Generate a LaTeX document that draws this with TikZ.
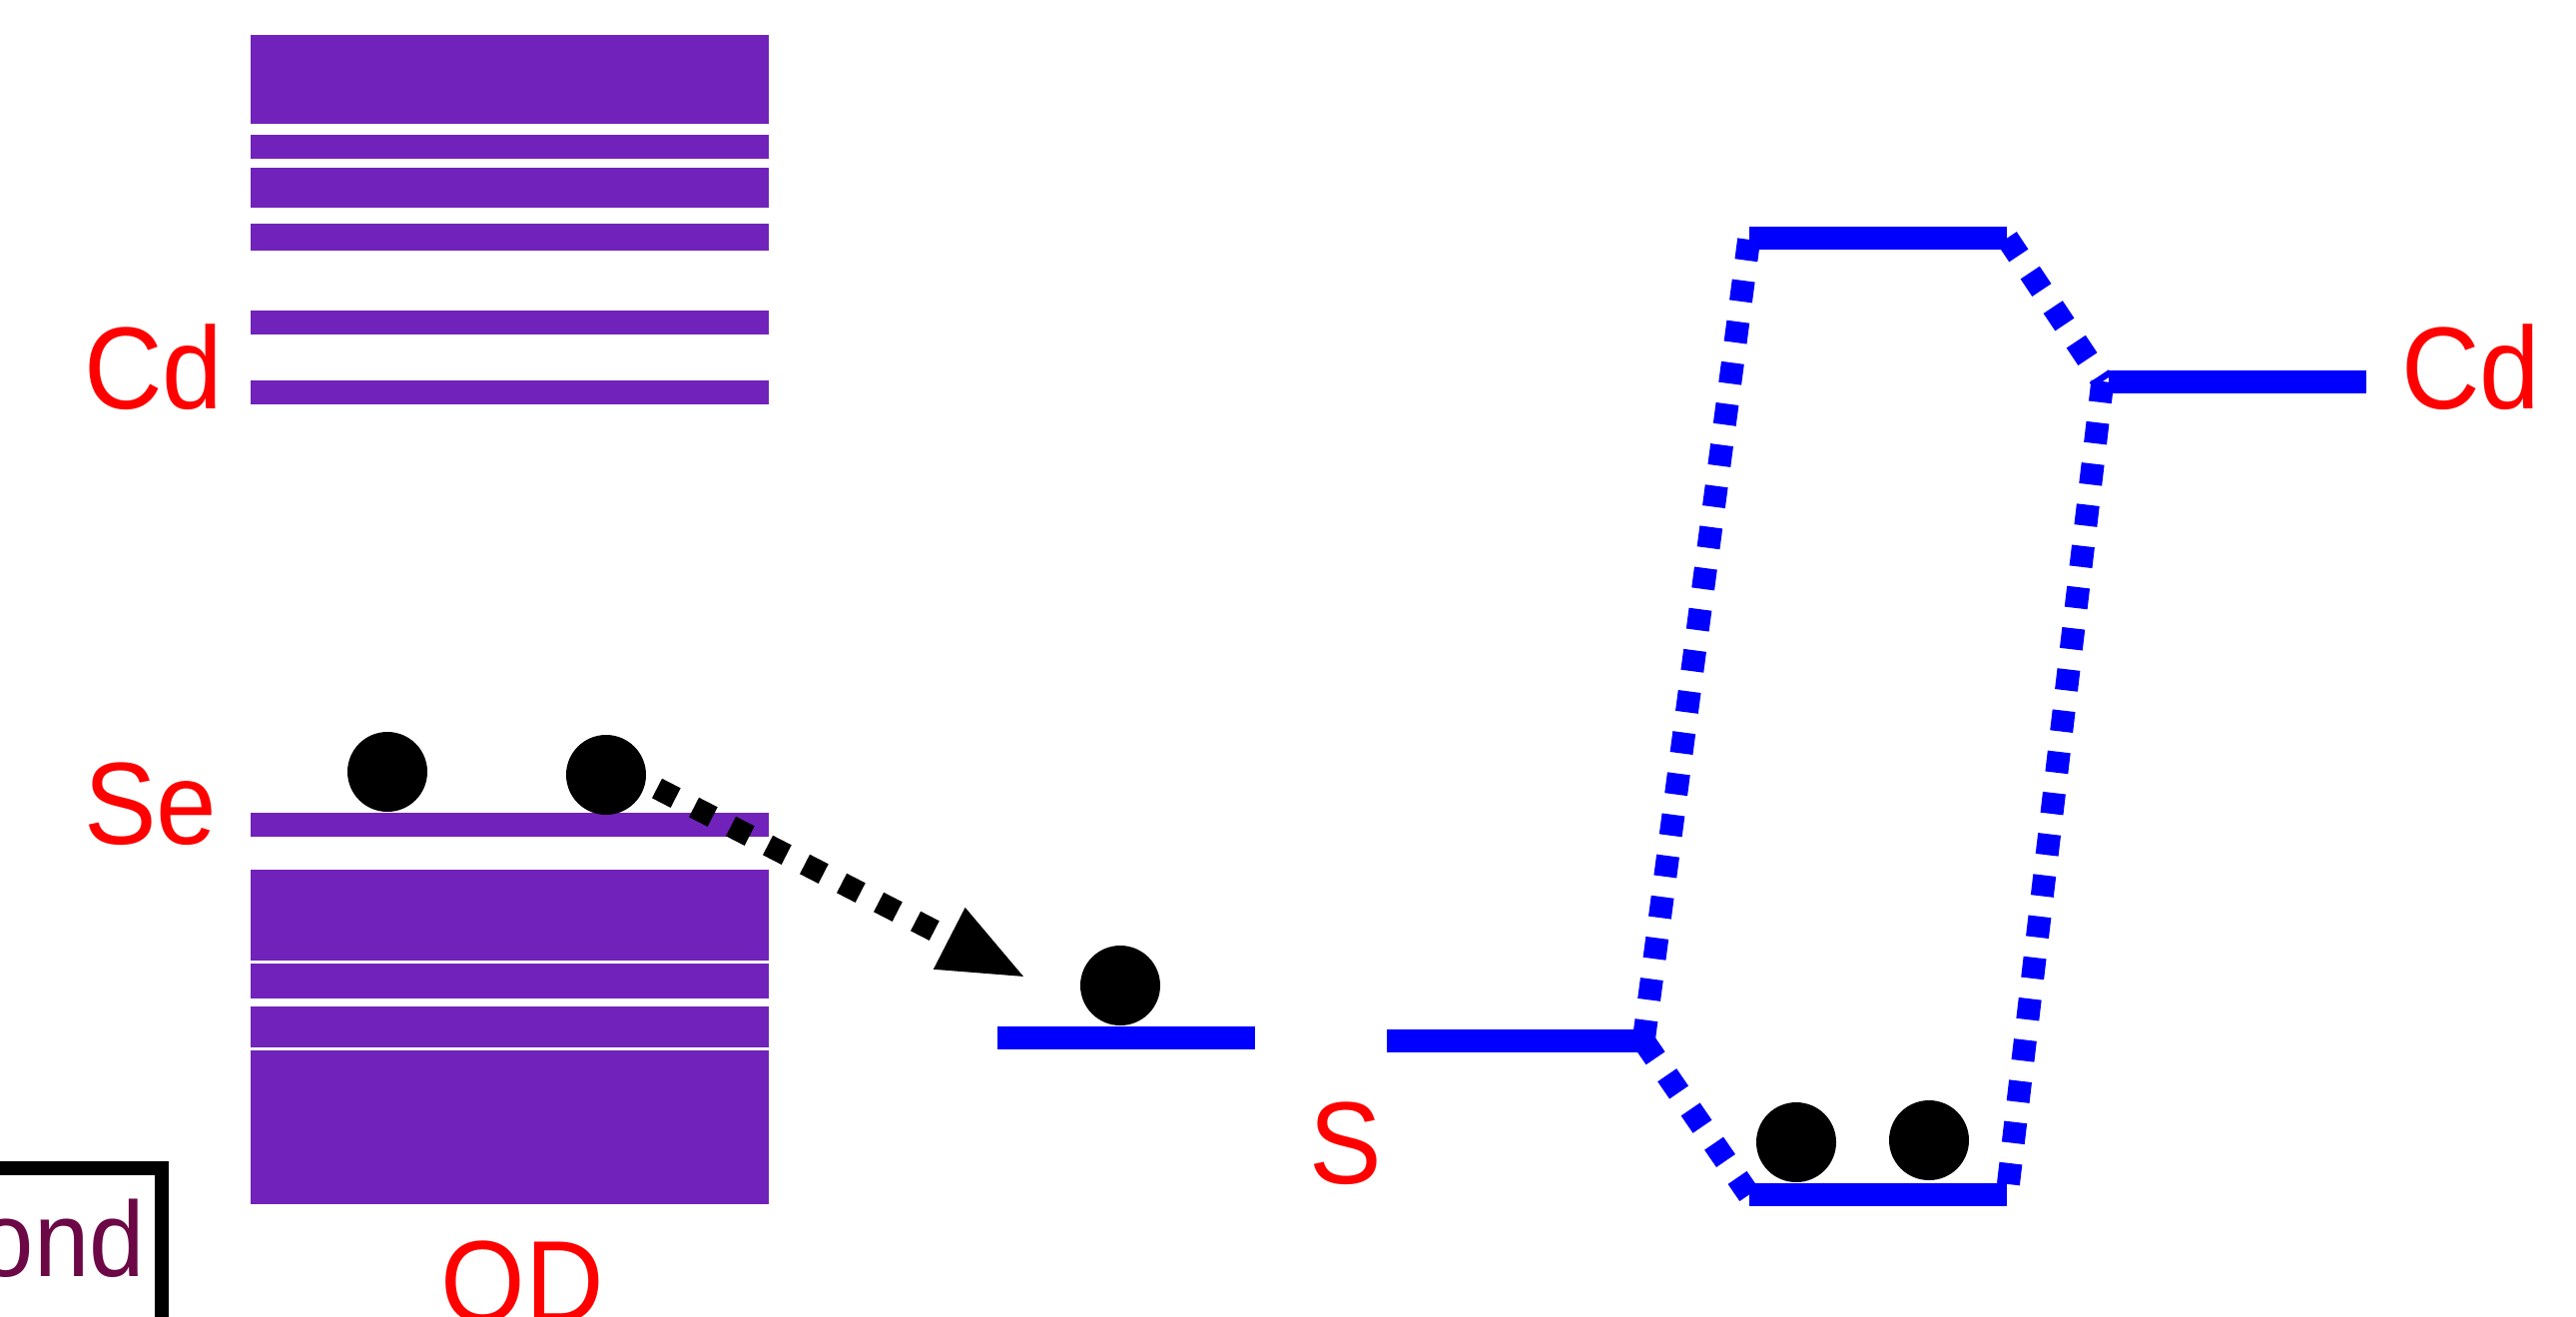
\documentclass[tikz,border=0pt]{standalone}
\usepackage{fontspec}
\setmainfont{Liberation Sans}
\newfontfamily\narrowsans[FakeStretch=0.93]{Liberation Sans}
\usetikzlibrary{arrows.meta,calc}
\definecolor{band}{RGB}{113,34,186}
\definecolor{plum}{RGB}{107,8,69}
\begin{document}
\begin{tikzpicture}[x=1pt,y=-1pt,
  level/.style={fill=blue, inner sep=0pt, minimum height=23pt, minimum width=258pt},
  elec/.style={circle, fill=black, minimum size=80pt, inner sep=0pt},
  tag/.style={text=red, font=\narrowsans\fontsize{117}{140}\selectfont, inner sep=0pt},
  orbit/.style={draw=blue, line width=23pt, dash pattern=on 21pt off 20.5pt},
  hop/.style={line width=22pt, dash pattern=on 21pt off 20.6pt,
              -{Triangle[length=88pt,width=62pt]}}]
\useasboundingbox (0,0) rectangle (2580,1318);

% quantum-dot band levels
\foreach \a/\b in {35/124,135/159,168/208,224/251,311/335,381/405,
                   814/838,871/962,965/1000,1008/1049,1052/1206}
  \fill[band] (251,\a) rectangle (770,\b);

% molecular levels
\node[level] (sL) at (1128,1039.5) {};
\node[level, minimum width=267pt] (sR) at (1522.5,1042.5) {};
\node[level] (top) at (1881,238.5) {};
\node[level] (bot) at (1881,1196.5) {};
\node[level] (cdR) at (2241,382) {};

% correlation lines
\coordinate (sC) at ($(sR.east)+(-10,0)$);
\coordinate (cC) at ($(cdR.west)+(-6,0)$);
\draw[orbit] (sC) -- (top.west);
\draw[orbit] (sC) -- (bot.west);
\draw[orbit] (top.east) -- (cC);
\draw[orbit] (cC) -- (bot.east);

% electrons
\node[elec] (e1) at (388,773) {};
\node[elec] (e2) at (607,776) {};
\node[elec] (e3) at (1122,987) {};
\node[elec] (e4) at (1799,1144) {};
\node[elec] (e5) at (1932,1142) {};

% electron transfer
\coordinate (a0) at (658,789.5);
\coordinate (tip) at (1029,980);
\draw[hop] (a0) -- (tip);

% labels
\node[tag, anchor=base west] (cdL) at (84,409) {Cd};
\node[tag, anchor=base west] (seL) at (84,845) {Se};
\node[tag, anchor=base west] (cdRl) at (2405,409) {Cd};
\node[tag, anchor=base] (sLab) at (1347.5,1185) {S};
\node[tag, anchor=base] (qd) at (523,1324) {QD};

% framed caption
\draw[line width=14pt] (-40,1170) -| (162,1360);
\node[text=plum, font=\narrowsans\fontsize{107}{128}\selectfont, inner sep=0pt,
      anchor=base east] (ond) at (145,1278) {ond};
\end{tikzpicture}
\end{document}
